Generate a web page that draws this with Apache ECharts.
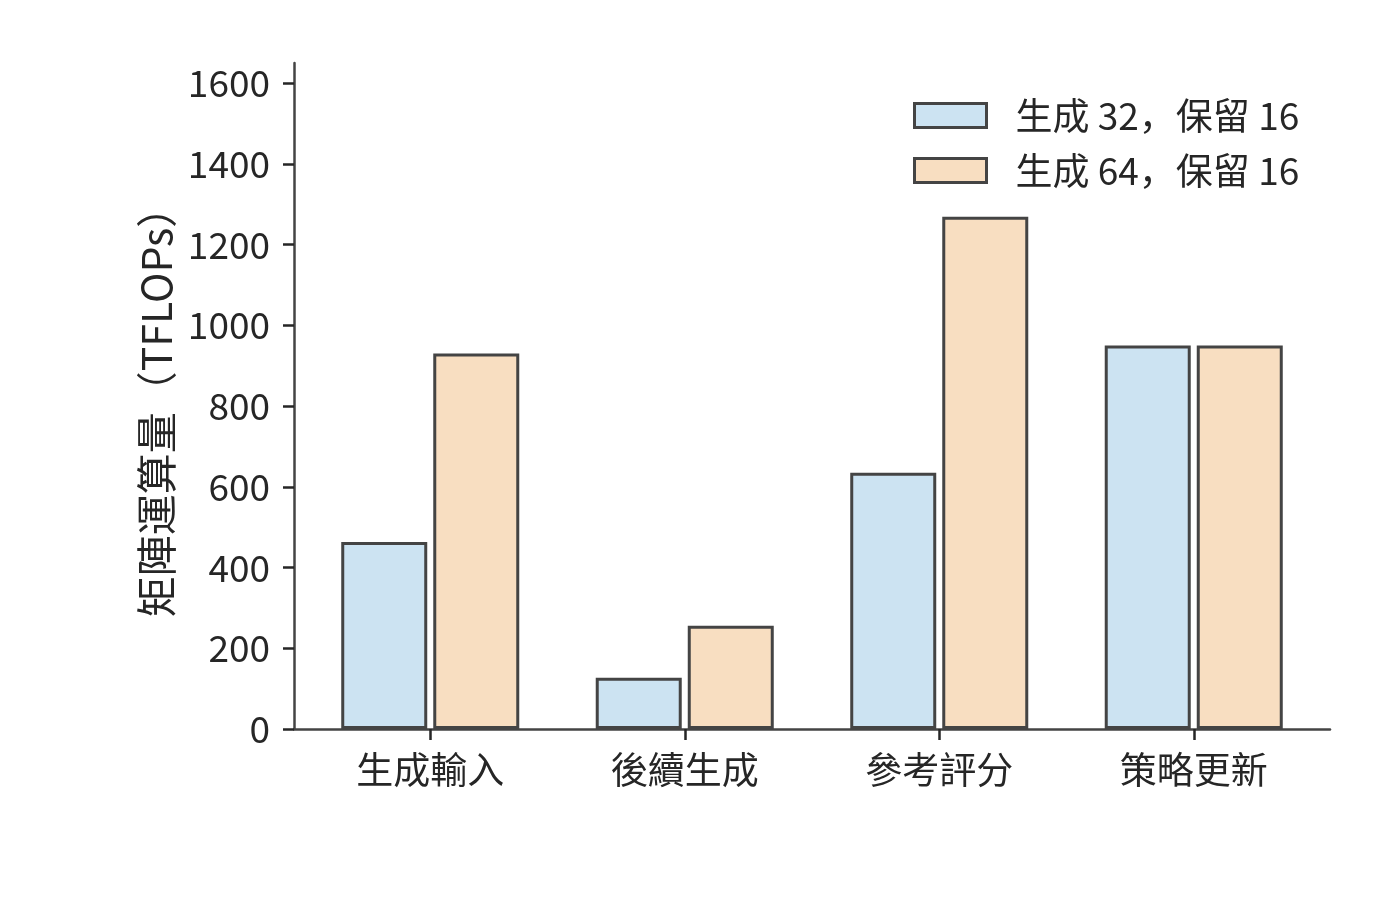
<!DOCTYPE html>
<html>
<head>
<meta charset="utf-8">
<title>矩陣運算量</title>
<script src="https://cdn.jsdelivr.net/npm/echarts@6/dist/echarts.min.js"></script>
<style>
    html, body { margin: 0; padding: 0; background: #fff; }
    #chart { width: 1400px; height: 912px; }
</style>
</head>
<body>
<div id="chart"></div>
<script>
// 數據
var categories = ['生成輸入', '後續生成', '參考評分', '策略更新'];
var seriesNames = ['生成 32，保留 16', '生成 64，保留 16'];
var gen32 = [463, 127, 635, 950];
var gen64 = [930, 256, 1269, 950];
var yTicks = [0, 200, 400, 600, 800, 1000, 1200, 1400, 1600];
var yMax = 1650;

var font = '"Noto Sans CJK SC", "Noto Sans", sans-serif';
var textColor = '#262626';
var lineColor = '#444444';
var colors = ['#cce3f2', '#f8dec1'];

var initChart = function () {
    var dom = document.getElementById('chart');
    var myChart = echarts.init(dom, null, { renderer: 'canvas' });

    var option = {
        backgroundColor: '#ffffff',
        textStyle: { fontFamily: font },
        legend: {
            orient: 'vertical',
            left: 913,
            top: 97,
            padding: 0,
            icon: 'rect',
            itemWidth: 72,
            itemHeight: 24,
            itemGap: 18,
            data: seriesNames,
            itemStyle: { borderColor: lineColor, borderWidth: 3 },
            textStyle: {
                fontFamily: font,
                fontSize: 37,
                color: textColor,
                lineHeight: 37,
                padding: [0, 0, 0, 24]
            }
        },
        grid: [
            // 軸線用
            { left: 294, right: 70, top: 63, bottom: 183, containLabel: false },
            // 柱子用
            { left: 303, right: 79, top: 63, bottom: 183, containLabel: false }
        ],
        xAxis: [
            {
                type: 'value',
                gridIndex: 0,
                min: 0,
                max: 1,
                axisLine: { show: true, lineStyle: { color: lineColor, width: 2.5 } },
                axisTick: { show: false },
                axisLabel: { show: false },
                splitLine: { show: false }
            },
            {
                type: 'category',
                gridIndex: 1,
                data: categories,
                axisLine: { show: false },
                axisTick: {
                    show: true,
                    alignWithLabel: true,
                    inside: false,
                    length: 11,
                    lineStyle: { color: '#262626', width: 2.5 }
                },
                axisLabel: {
                    margin: 22,
                    fontSize: 37,
                    fontFamily: font,
                    color: textColor
                },
                splitLine: { show: false }
            }
        ],
        yAxis: [
            {
                type: 'value',
                gridIndex: 0,
                min: 0,
                max: yMax,
                name: '矩陣運算量（TFLOPs）',
                nameLocation: 'middle',
                nameGap: 112,
                nameRotate: 90,
                nameTextStyle: {
                    fontFamily: font,
                    fontSize: 41,
                    color: textColor,
                    padding: [0, 12, 0, 0]
                },
                axisLine: { show: true, lineStyle: { color: lineColor, width: 2.5 } },
                axisTick: {
                    show: true,
                    length: 11,
                    customValues: yTicks,
                    lineStyle: { color: '#262626', width: 2.5 }
                },
                axisLabel: {
                    margin: 24,
                    fontSize: 37,
                    fontFamily: font,
                    color: textColor,
                    customValues: yTicks,
                    formatter: function (v) { return String(v); }
                },
                splitLine: { show: false }
            },
            {
                type: 'value',
                gridIndex: 1,
                min: 0,
                max: yMax,
                show: false
            }
        ],
        series: [
            {
                name: seriesNames[0],
                type: 'bar',
                xAxisIndex: 1,
                yAxisIndex: 1,
                data: gen32,
                barWidth: 86,
                barGap: '7%',
                itemStyle: { color: colors[0], borderColor: lineColor, borderWidth: 3 }
            },
            {
                name: seriesNames[1],
                type: 'bar',
                xAxisIndex: 1,
                yAxisIndex: 1,
                data: gen64,
                barWidth: 86,
                barGap: '7%',
                itemStyle: { color: colors[1], borderColor: lineColor, borderWidth: 3 }
            }
        ]
    };
    myChart.setOption(option);
};
initChart();
</script>
</body>
</html>
